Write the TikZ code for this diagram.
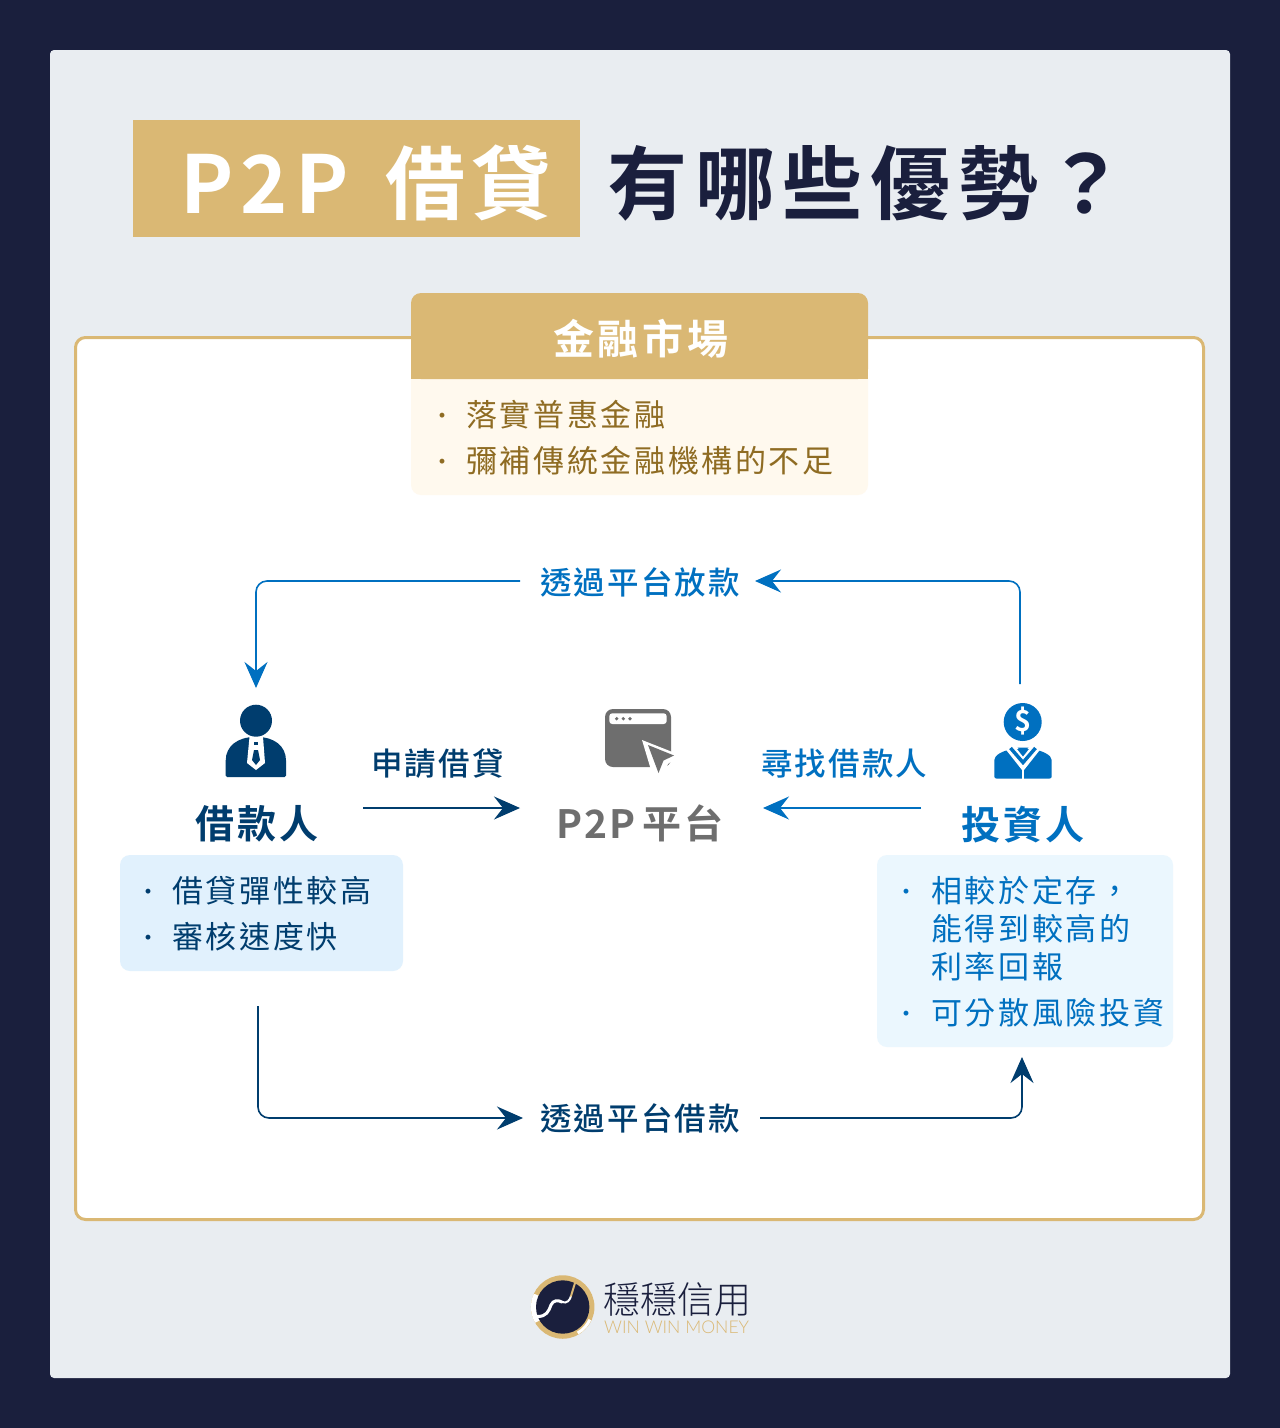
\documentclass[tikz,border=0pt]{standalone}
\usepackage{fontspec}
\usetikzlibrary{arrows.meta,calc}
\setmainfont[BoldFont={Noto Sans CJK TC Bold}]{Noto Sans CJK TC}
\newfontfamily\cjklight{Noto Sans CJK TC Light}
\newfontfamily\cjkmed{Noto Sans CJK TC Medium}
\newfontfamily\logolatin{Lato Light}
\newcommand\fsz[2]{\fontsize{#1}{#1}\selectfont\addfontfeature{LetterSpace=#2}}
\definecolor{bgnavy}{HTML}{1A1F3D}
\definecolor{panel}{HTML}{E9EDF1}
\definecolor{gold}{HTML}{DAB874}
\definecolor{cream}{HTML}{FFF9EE}
\definecolor{brown}{HTML}{8F6C23}
\definecolor{navy}{HTML}{003D6E}
\definecolor{blue}{HTML}{0070C0}
\definecolor{lblue}{HTML}{E1F1FD}
\definecolor{lblueb}{HTML}{EBF7FE}
\definecolor{gray6}{HTML}{6E6E6E}
\tikzset{
  txt/.style={inner sep=0pt,anchor=base west},
  body/.style={txt,font=\fsz{31}{8.5}},
  dotm/.style={txt,font=\cjklight\fsz{26}{0}},
  lab/.style={txt,font=\cjkmed\fsz{31.5}{7}},
  bignm/.style={txt,font=\bfseries\fsz{39}{7.5}},
  conn/.style={line width=1.6pt,rounded corners=11pt},
  tip/.style={-{Stealth[length=26pt,width=23pt,inset=9pt]}},
  rtip/.style={{Stealth[length=26pt,width=23pt,inset=9pt]}-},
}
\begin{document}
\begin{tikzpicture}[x=1pt,y=-1pt]
\useasboundingbox (0,0) rectangle (1280,1428);
\fill[bgnavy] (0,0) rectangle (1280,1428);
\fill[panel,rounded corners=4pt] (50,50) rectangle (1230,1378);
% title
\fill[gold] (133,119.5) rectangle (580,237);
\node[txt,text=white,font=\bfseries\fsz{80}{9}] (titleA) at (180,213) {P2P};
\node[txt,text=white,font=\bfseries\fsz{80}{8}] (titleC) at (385,213) {借貸};
\node[txt,text=bgnavy,font=\bfseries\fsz{80}{9.5}] (titleB) at (607.5,213) {有哪些優勢？};
% frame
\draw[gold,line width=3pt,fill=white,rounded corners=10pt] (75.5,337.5) rectangle (1203.5,1219.5);
% market
\fill[cream,rounded corners=10pt] (411,370) rectangle (868,495);
\fill[gold,rounded corners=10pt] (411,379) -- (411,293) -- (868,293) -- (868,379) -- cycle;
\fill[gold] (411,365) rectangle (868,379);
\node[txt,text=white,font=\bfseries\fsz{41}{9}] (market) at (553,354) {金融市場};
\node[dotm,text=brown] (mb1) at (429,425) {·};
\node[body,text=brown] (mt1) at (466,426) {落實普惠金融};
\node[dotm,text=brown] (mb2) at (429,471) {·};
\node[body,text=brown] (mt2) at (466,472) {彌補傳統金融機構的不足};
% top connector
\node[lab,text=blue] (toplabel) at (540,594) {透過平台放款};
\coordinate (invTop) at (1020,684);
\coordinate (borTop) at (256,688);
\coordinate (topR) at (755,581);
\coordinate (topL) at (520,581);
\draw[conn,blue,rtip] (topR) -- (1020,581) -- (invTop);
\draw[conn,blue,tip] (topL) -- (256,581) -- (borTop);
% borrower icon
\fill[navy] (256,720.7) circle (16);
\fill[navy,rounded corners=1.5pt] (225.7,777) -- (225.7,762) .. controls (225.7,746) and (238,737) .. (256,737) .. controls (274,737) and (286,746) .. (286,762) -- (286,777) -- cycle;
\fill[white] (249.5,737) -- (263,737) -- (265,763) -- (256,770) -- (247,763) -- cycle;
\fill[navy] (254,741.7) rectangle (258,745);
\fill[navy] (254,750) -- (258,750) -- (260,760) -- (256,765) -- (252,760) -- cycle;
\node[bignm,text=navy] (borrower) at (195,838) {借款人};
% borrower box
\fill[lblue,rounded corners=10pt] (120,855) rectangle (403,971);
\node[dotm,text=navy] (bb1) at (135,901) {·};
\node[body,text=navy] (bt1) at (172,902) {借貸彈性較高};
\node[dotm,text=navy] (bb2) at (135,947) {·};
\node[body,text=navy] (bt2) at (172,948) {審核速度快};
% mid
\node[lab,text=navy] (apply) at (371,775) {申請借貸};
\coordinate (midLa) at (363,808);
\coordinate (midLb) at (520,808);
\draw[conn,navy,tip] (midLa) -- (midLb);
\node[lab,text=blue] (find) at (761,775) {尋找借款人};
\coordinate (midRa) at (921,808);
\coordinate (midRb) at (763,808);
\draw[conn,blue,tip] (midRa) -- (midRb);
% browser icon
\fill[gray6,rounded corners=8pt] (605,709) rectangle (671,767);
\fill[white,rounded corners=3pt] (609.3,713.3) rectangle (666.7,724);
\foreach \cx in {616.7,623.3,630}{\fill[gray6] (\cx,718.7) circle (1.8);}
\fill[white] (642,740) -- (680,755) -- (668,764) -- (661,780) -- (654,780) -- cycle;
\fill[gray6] (648,745) -- (674,755.5) -- (663.5,760.5) -- (658.5,773) -- cycle;
\node[txt,text=gray6,font=\bfseries\fsz{39}{6}] (p2p) at (556,838) {P2P};
\node[txt,text=gray6,font=\bfseries\fsz{39}{8}] (plat) at (642,838) {平台};
% investor icon
\fill[blue] (1022.7,722) circle (19);
\node[inner sep=0pt,text=white,font=\bfseries\fsz{29}{0}] (dollar) at (1022.7,721) {\$};
\fill[blue,rounded corners=2pt] (994.3,778.5) -- (994.3,762) .. controls (994.3,755) and (1003,751) .. (1012,749) -- (1033,749) .. controls (1042,751) and (1051.7,755) .. (1051.7,762) -- (1051.7,778.5) -- cycle;
\draw[white,line width=9pt,line join=miter] (1008,745) -- (1023,764) -- (1038,745);
\draw[blue,line width=3.5pt,line join=miter] (1010.5,748) -- (1023,762.5) -- (1035.5,748);
\draw[white,line width=2pt] (1023,765) -- (1023,780);
\fill[blue] (1017.5,747.5) -- (1028.5,747.5) -- (1023,754) -- cycle;
\node[bignm,text=blue] (investor) at (961,839) {投資人};
% investor box
\fill[lblueb,rounded corners=10pt] (877,855) rectangle (1173,1047);
\node[dotm,text=blue] (ib1) at (893,901) {·};
\node[body,text=blue] (it1) at (931,902) {相較於定存，};
\node[body,text=blue] (it2) at (931,940) {能得到較高的};
\node[body,text=blue] (it3) at (931,978) {利率回報};
\node[dotm,text=blue] (ib2) at (893,1023) {·};
\node[body,text=blue] (it4) at (931,1024) {可分散風險投資};
% bottom connector
\node[lab,text=navy] (botlabel) at (540,1130) {透過平台借款};
\coordinate (borBot) at (258,1006);
\coordinate (botL) at (523,1118);
\coordinate (botR) at (760,1118);
\coordinate (invBot) at (1022,1057);
\draw[conn,navy,tip] (borBot) -- (258,1118) -- (botL);
\draw[conn,navy,tip] (botR) -- (1022,1118) -- (invBot);
% logo
\draw[gold,line width=5.5pt] (562.7,1307) circle (29);
\draw[white,line width=5.5pt] (562.7,1307) ++(150:29) arc[start angle=150,end angle=205,radius=29];
\draw[white,line width=3pt] (562.7,1307) ++(25:30) arc[start angle=25,end angle=60,radius=30];
\fill[bgnavy] (562.7,1307) circle (26.7);
\draw[white,line width=3pt,line cap=round] (537.5,1316.3) .. controls (546,1317) and (549,1311) .. (551,1305) .. controls (553,1300) and (558,1300) .. (562,1302);
\draw[white,line width=2pt,line cap=round] (562,1302) .. controls (567,1304) and (570,1300) .. (571,1296);
\draw[gold,line width=2pt,line cap=round] (571,1296) -- (575,1283);
\node[txt,text=bgnavy,font=\cjklight\fsz{37}{0}] (logoA) at (603,1313) {穩穩信用};
\node[txt,text=gold,font=\logolatin\fsz{17.6}{0}] (logoB) at (604,1333) {WIN WIN MONEY};
\end{tikzpicture}
\end{document}
